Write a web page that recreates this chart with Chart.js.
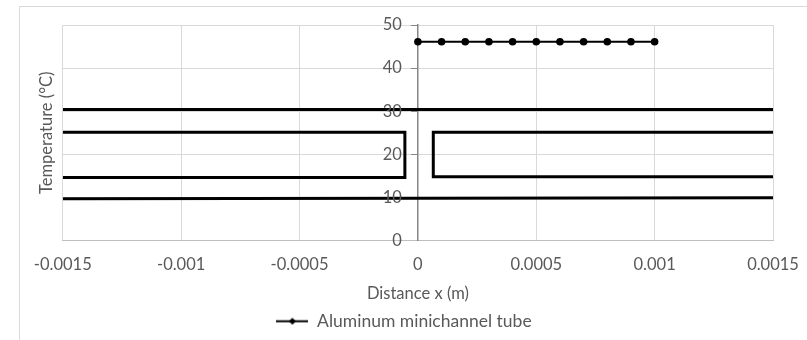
<!DOCTYPE html>
<html lang="en">
<head>
  <title>Aluminum minichannel tube</title>
  <script src="https://cdn.jsdelivr.net/npm/chart.js"></script>
  <style>
    body { margin: 0; background: #fff; }
    #frame { position: absolute; left: 19px; top: 6px; width: 820px; height: 360px; border: 1px solid #d9d9d9; }
    #wrap { position: absolute; left: 0; top: 0; width: 807px; height: 340px; }
  </style>
</head>
<body>
  <div id="frame"></div>
  <div id="wrap"><canvas id="myChart"></canvas></div>
  <script>
    // measured series
    const tubeX = [0, 0.0001, 0.0002, 0.0003, 0.0004, 0.0005, 0.0006, 0.0007, 0.0008, 0.0009, 0.001];
    const tubeY = [46.1, 46.1, 46.1, 46.1, 46.1, 46.1, 46.1, 46.1, 46.1, 46.1, 46.1];

    // outline of the channel (drawn shapes in the original)
    const upperWallX = [-0.0015, 0.0015];
    const upperWallY = [30.4, 30.4];
    const lowerWallX = [-0.0015, 0.0015];
    const lowerWallY = [9.7, 9.9];
    const leftChannelX = [-0.0015, -0.000055, -0.000055, -0.0015];
    const leftChannelY = [25.1, 25.1, 14.6, 14.6];
    const rightChannelX = [0.0015, 0.000065, 0.000065, 0.0015];
    const rightChannelY = [25.1, 25.1, 14.8, 14.8];

    const xTicks = [-0.0015, -0.001, -0.0005, 0, 0.0005, 0.001, 0.0015];
    const xTickLabels = ['-0.0015', '-0.001', '-0.0005', '0', '0.0005', '0.001', '0.0015'];
    const yTicks = [0, 10, 20, 30, 40, 50];
    const yTickLabels = ['0', '10', '20', '30', '40', '50'];

    function pts(xs, ys) {
      return xs.map((x, i) => ({ x: x, y: ys[i] }));
    }

    function shape(xs, ys) {
      return {
        label: '',
        data: pts(xs, ys),
        showLine: true,
        borderColor: '#000',
        borderWidth: 3,
        pointRadius: 0,
        borderJoinStyle: 'miter'
      };
    }

    // legend swatch: line with marker
    const swatch = document.createElement('canvas');
    swatch.width = 32; swatch.height = 9;
    const sc = swatch.getContext('2d');
    sc.strokeStyle = '#000'; sc.lineWidth = 2;
    sc.beginPath(); sc.moveTo(0, 4.5); sc.lineTo(32, 4.5); sc.stroke();
    sc.fillStyle = '#000';
    sc.beginPath(); sc.moveTo(16, 1); sc.lineTo(19.5, 4.5); sc.lineTo(16, 8); sc.lineTo(12.5, 4.5); sc.closePath(); sc.fill();

    const font = { family: 'Lato', size: 16.5 };
    const legendFont = { family: 'Lato', size: 17.5 };
    const txt = '#595959';

    // y labels sit left of the axis that crosses at x = 0
    const yLabels = {
      id: 'yLabels',
      afterDraw(chart) {
        const c = chart.ctx;
        const xs = chart.scales.x, ys = chart.scales.y;
        const px = xs.getPixelForValue(0) - 16;
        c.save();
        c.font = font.size + 'px ' + font.family;
        c.fillStyle = txt;
        c.textAlign = 'right';
        c.textBaseline = 'middle';
        yTicks.forEach((v, i) => c.fillText(yTickLabels[i], px, ys.getPixelForValue(v)));
        c.restore();
      }
    };

    var ctx = document.getElementById('myChart').getContext('2d');
    var myChart = new Chart(ctx, {
      type: 'scatter',
      data: {
        datasets: [
          {
            label: 'Aluminum minichannel tube',
            data: pts(tubeX, tubeY),
            showLine: true,
            borderColor: '#000',
            backgroundColor: '#000',
            borderWidth: 2,
            pointRadius: 2.8,
            pointStyle: 'circle'
          },
          shape(upperWallX, upperWallY),
          shape(lowerWallX, lowerWallY),
          shape(leftChannelX, leftChannelY),
          shape(rightChannelX, rightChannelY)
        ]
      },
      plugins: [yLabels],
      options: {
        responsive: true,
        maintainAspectRatio: false,
        animation: false,
        layout: { padding: { left: 35, right: 34, top: 25, bottom: 0 } },
        plugins: {
          tooltip: { enabled: false },
          legend: {
            position: 'bottom',
            labels: {
              font: legendFont,
              color: txt,
              usePointStyle: true,
              pointStyleWidth: 32,
              padding: 5,
              generateLabels: function(chart) {
                return [{
                  text: 'Aluminum minichannel tube',
                  pointStyle: swatch,
                  fontColor: txt,
                  datasetIndex: 0,
                  lineWidth: 0,
                  hidden: false
                }];
              }
            }
          }
        },
        scales: {
          x: {
            type: 'linear',
            min: -0.0015,
            max: 0.0015,
            afterBuildTicks: function(axis) {
              axis.ticks = xTicks.map(v => ({ value: v }));
            },
            afterFit: function(axis) {
              axis.height = 67;
              axis.paddingLeft = 0;
              axis.paddingRight = 0;
            },
            ticks: {
              font: font,
              color: txt,
              padding: 14,
              maxRotation: 0,
              callback: function(value, index) { return xTickLabels[index]; }
            },
            grid: { color: '#d9d9d9', drawTicks: false },
            border: { color: '#bfbfbf', width: 1 },
            title: { display: true, text: 'Distance x (m)', font: font, color: txt, padding: { top: 0, bottom: 4 } }
          },
          y: {
            type: 'linear',
            position: { x: 0 },
            min: 0,
            max: 50,
            afterBuildTicks: function(axis) {
              axis.ticks = yTicks.map(v => ({ value: v }));
            },
            ticks: { display: false },
            grid: { color: '#d9d9d9', tickColor: '#868686', tickLength: 6 },
            border: { color: '#868686', width: 1.5 }
          },
          yTitle: {
            type: 'linear',
            position: 'left',
            ticks: { display: false },
            grid: { display: false, drawTicks: false },
            border: { display: false },
            title: { display: true, text: 'Temperature (°C)', font: font, color: txt, padding: { top: 2, bottom: 6 } }
          }
        }
      }
    });
  </script>
</body>
</html>
